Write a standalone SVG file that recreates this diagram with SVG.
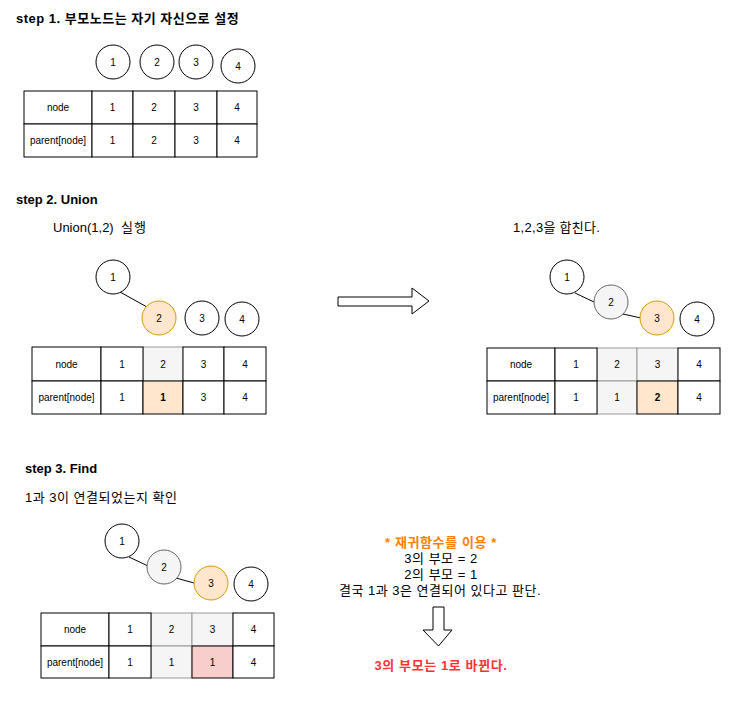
<svg xmlns="http://www.w3.org/2000/svg" width="750" height="710" viewBox="0 0 750 710">
<style>
text{font-family:"Liberation Sans","Noto Sans CJK KR",sans-serif;fill:#000}
.t{font-size:13px;font-weight:bold}
.p{font-size:13px}
.k{letter-spacing:0.5px}
.c{font-size:10px;text-anchor:middle;dominant-baseline:central}
.n{fill:#fff;stroke:#000;stroke-width:1}
.ng{fill:#f5f5f5;stroke:#666;stroke-width:1}
.no{fill:#ffe6cc;stroke:#d79b00;stroke-width:1}
.cell{fill:#fff;stroke:#000;stroke-width:1}
.cg{fill:#f5f5f5;stroke:#999;stroke-width:1}
.co{fill:#ffe6cc;stroke:#000;stroke-width:1}
.cp{fill:#f8cecc;stroke:#000;stroke-width:1}
.e{stroke:#000;stroke-width:1;fill:none}
.b{font-weight:bold}
.ar{fill:#fff;stroke:#000;stroke-width:1}
</style>
<rect width="750" height="710" fill="#fff"/>

<text class="t k" x="16" y="23">step 1. 부모노드는 자기 자신으로 설정</text>
<text class="t" x="16" y="204">step 2. Union</text>
<text class="p" x="53" y="232" xml:space="preserve">Union(1,2)  <tspan style="letter-spacing:1px">실행</tspan></text>
<text class="p" x="513" y="232" style="letter-spacing:0.3px">1,2,3을 합친다.</text>
<text class="t" x="25" y="473">step 3. Find</text>
<text class="p k" x="25" y="502">1과 3이 연결되었는지 확인</text>

<g id="connectors">
<line class="e" x1="120" y1="292" x2="147" y2="307"/>
<line class="e" x1="575" y1="293" x2="594" y2="302"/>
<line class="e" x1="623" y1="314" x2="641" y2="318"/>
<line class="e" x1="129" y1="557" x2="148" y2="566"/>
<line class="e" x1="176" y1="578" x2="194" y2="583"/>
</g>

<g id="s1-nodes">
<g id="s1n1"><circle class="n" cx="113" cy="62" r="17"/><text class="c" x="113" y="62">1</text></g>
<g id="s1n2"><circle class="n" cx="157" cy="62" r="17"/><text class="c" x="157" y="62">2</text></g>
<g id="s1n3"><circle class="n" cx="196" cy="62" r="17"/><text class="c" x="196" y="62">3</text></g>
<g id="s1n4"><circle class="n" cx="238" cy="66" r="17"/><text class="c" x="238" y="66">4</text></g>
</g>

<g id="s1-table">
<rect class="cell" x="24" y="91" width="68" height="33"/>
<rect class="cell" x="92" y="91" width="41" height="33"/>
<rect class="cell" x="133" y="91" width="42" height="33"/>
<rect class="cell" x="175" y="91" width="42" height="33"/>
<rect class="cell" x="217" y="91" width="40" height="33"/>
<rect class="cell" x="24" y="124" width="68" height="33"/>
<rect class="cell" x="92" y="124" width="41" height="33"/>
<rect class="cell" x="133" y="124" width="42" height="33"/>
<rect class="cell" x="175" y="124" width="42" height="33"/>
<rect class="cell" x="217" y="124" width="40" height="33"/>
<text class="c" x="58" y="107.5">node</text>
<text class="c" x="112.5" y="107.5">1</text>
<text class="c" x="154" y="107.5">2</text>
<text class="c" x="196" y="107.5">3</text>
<text class="c" x="237" y="107.5">4</text>
<text class="c" x="58" y="140.5">parent[node]</text>
<text class="c" x="112.5" y="140.5">1</text>
<text class="c" x="154" y="140.5">2</text>
<text class="c" x="196" y="140.5">3</text>
<text class="c" x="237" y="140.5">4</text>
</g>

<g id="s2-nodes">
<g id="s2n1"><circle class="n" cx="113" cy="277" r="17"/><text class="c" x="113" y="277">1</text></g>
<g id="s2n2"><circle class="no" cx="159" cy="318" r="17"/><text class="c" x="159" y="318">2</text></g>
<g id="s2n3"><circle class="n" cx="202" cy="318" r="17"/><text class="c" x="202" y="318">3</text></g>
<g id="s2n4"><circle class="n" cx="242" cy="319" r="17"/><text class="c" x="242" y="319">4</text></g>
</g>

<g id="s2-table">
<rect class="cg" x="143" y="347" width="40" height="34"/>
<rect class="cell" x="32" y="347" width="69" height="34"/>
<rect class="cell" x="101" y="347" width="42" height="34"/>
<rect class="cell" x="183" y="347" width="41" height="34"/>
<rect class="cell" x="224" y="347" width="42" height="34"/>
<rect class="cell" x="32" y="381" width="69" height="33"/>
<rect class="cell" x="101" y="381" width="42" height="33"/>
<rect class="co" x="143" y="381" width="40" height="33"/>
<rect class="cell" x="183" y="381" width="41" height="33"/>
<rect class="cell" x="224" y="381" width="42" height="33"/>
<text class="c" x="66.5" y="364">node</text>
<text class="c" x="122" y="364">1</text>
<text class="c" x="163" y="364">2</text>
<text class="c" x="203.5" y="364">3</text>
<text class="c" x="245" y="364">4</text>
<text class="c" x="66.5" y="397.5">parent[node]</text>
<text class="c" x="122" y="397.5">1</text>
<text class="c b" x="163" y="397.5">1</text>
<text class="c" x="203.5" y="397.5">3</text>
<text class="c" x="245" y="397.5">4</text>
</g>

<g id="arrow-right">
<polygon class="ar" points="338,297 412,297 412,288 429,301 412,314 412,306 338,306"/>
</g>

<g id="s2r-nodes">
<g id="s2rn1"><circle class="n" cx="567" cy="277" r="17"/><text class="c" x="567" y="277">1</text></g>
<g id="s2rn2"><circle class="ng" cx="611" cy="302" r="17"/><text class="c" x="611" y="302">2</text></g>
<g id="s2rn3"><circle class="no" cx="657" cy="318" r="17"/><text class="c" x="657" y="318">3</text></g>
<g id="s2rn4"><circle class="n" cx="697" cy="319" r="17"/><text class="c" x="697" y="319">4</text></g>
</g>

<g id="s2r-table">
<rect class="cg" x="597" y="348" width="40" height="33"/>
<rect class="cg" x="637" y="348" width="41" height="33"/>
<rect class="cg" x="597" y="381" width="40" height="33"/>
<rect class="cell" x="487" y="348" width="68" height="33"/>
<rect class="cell" x="555" y="348" width="42" height="33"/>
<rect class="cell" x="678" y="348" width="42" height="33"/>
<rect class="cell" x="487" y="381" width="68" height="33"/>
<rect class="cell" x="555" y="381" width="42" height="33"/>
<rect class="co" x="637" y="381" width="41" height="33"/>
<rect class="cell" x="678" y="381" width="42" height="33"/>
<text class="c" x="521" y="364.5">node</text>
<text class="c" x="576" y="364.5">1</text>
<text class="c" x="617" y="364.5">2</text>
<text class="c" x="657.5" y="364.5">3</text>
<text class="c" x="699" y="364.5">4</text>
<text class="c" x="521" y="397.5">parent[node]</text>
<text class="c" x="576" y="397.5">1</text>
<text class="c" x="617" y="397.5">1</text>
<text class="c b" x="657.5" y="397.5">2</text>
<text class="c" x="699" y="397.5">4</text>
</g>

<g id="s3-nodes">
<g id="s3n1"><circle class="n" cx="122" cy="541" r="17"/><text class="c" x="122" y="541">1</text></g>
<g id="s3n2"><circle class="ng" cx="164" cy="567" r="17"/><text class="c" x="164" y="567">2</text></g>
<g id="s3n3"><circle class="no" cx="211" cy="583" r="17"/><text class="c" x="211" y="583">3</text></g>
<g id="s3n4"><circle class="n" cx="251" cy="584" r="17"/><text class="c" x="251" y="584">4</text></g>
</g>

<g id="s3-table">
<rect class="cg" x="151" y="613" width="41" height="33"/>
<rect class="cg" x="192" y="613" width="41" height="33"/>
<rect class="cg" x="151" y="646" width="41" height="32"/>
<rect class="cell" x="41" y="613" width="68" height="33"/>
<rect class="cell" x="109" y="613" width="42" height="33"/>
<rect class="cell" x="233" y="613" width="41" height="33"/>
<rect class="cell" x="41" y="646" width="68" height="32"/>
<rect class="cell" x="109" y="646" width="42" height="32"/>
<rect class="cp" x="192" y="646" width="41" height="32"/>
<rect class="cell" x="233" y="646" width="41" height="32"/>
<text class="c" x="75" y="629.5">node</text>
<text class="c" x="130" y="629.5">1</text>
<text class="c" x="171.5" y="629.5">2</text>
<text class="c" x="212.5" y="629.5">3</text>
<text class="c" x="253.5" y="629.5">4</text>
<text class="c" x="75" y="662">parent[node]</text>
<text class="c" x="130" y="662">1</text>
<text class="c" x="171.5" y="662">1</text>
<text class="c" x="212.5" y="662">1</text>
<text class="c" x="253.5" y="662">4</text>
</g>

<g id="note" text-anchor="middle">
<text class="p" x="441" y="546.5" style="fill:#ff8000;font-weight:bold;letter-spacing:0.6px">* 재귀함수를 이용 *</text>
<text class="p k" x="441" y="562.5">3의 부모 = 2</text>
<text class="p k" x="441" y="578.5">2의 부모 = 1</text>
<text class="p k" x="440" y="594.5">결국 1과 3은 연결되어 있다고 판단.</text>
</g>

<g id="arrow-down">
<polygon class="ar" points="433,607 444,607 444,630 452,630 438.5,646 423,630 433,630"/>
</g>

<g id="result">
<text class="p" x="441" y="669.5" text-anchor="middle" style="fill:#ff3333;font-weight:bold;letter-spacing:0.6px">3의 부모는 1로 바뀐다.</text>
</g>
</svg>
